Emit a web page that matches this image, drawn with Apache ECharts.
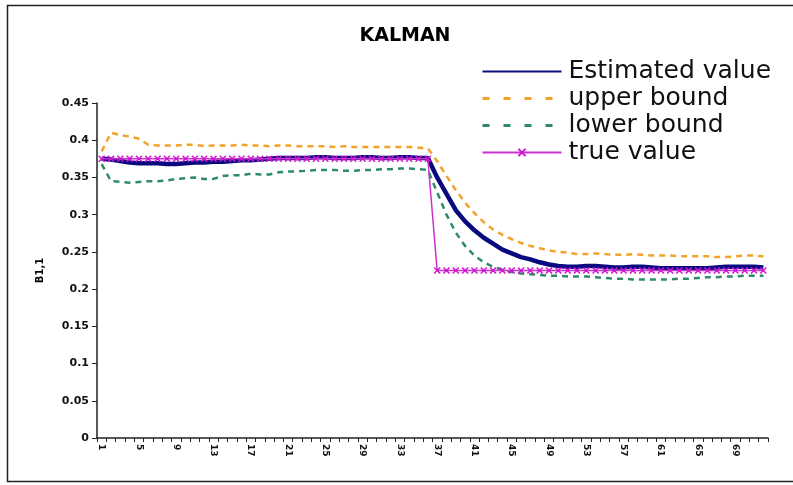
<!DOCTYPE html>
<html>
<head>
<meta charset="utf-8">
<title>KALMAN</title>
<script src="https://cdn.jsdelivr.net/npm/echarts@6/dist/echarts.min.js"></script>
<style>
  html, body { margin: 0; padding: 0; background: #ffffff; }
  #chart { width: 793px; height: 485px; }
</style>
</head>
<body>
<div id="chart"></div>
<script>
// Time steps 1..72
const steps = [];
for (let i = 1; i <= 72; i++) steps.push(String(i));

// Kalman filter estimate of B1,1
const estimated = [
  0.375, 0.374, 0.372, 0.370, 0.369, 0.369, 0.369, 0.368, 0.368, 0.369,
  0.370, 0.370, 0.371, 0.371, 0.372, 0.373, 0.373, 0.374, 0.375, 0.376,
  0.376, 0.376, 0.376, 0.377, 0.377, 0.376, 0.376, 0.376, 0.377, 0.377,
  0.376, 0.376, 0.377, 0.377, 0.376, 0.376,
  0.350, 0.328, 0.306, 0.291, 0.279, 0.269, 0.261, 0.253, 0.248, 0.243,
  0.240, 0.236, 0.233, 0.231, 0.230, 0.230, 0.231, 0.231, 0.230, 0.229,
  0.229, 0.230, 0.230, 0.229, 0.228, 0.228, 0.228, 0.228, 0.228, 0.228,
  0.229, 0.230, 0.230, 0.230, 0.230, 0.229
];

// Upper confidence bound
const upper = [
  0.385, 0.410, 0.407, 0.405, 0.402, 0.394, 0.393, 0.393, 0.393, 0.394,
  0.394, 0.392, 0.393, 0.393, 0.393, 0.394, 0.393, 0.393, 0.392, 0.393,
  0.393, 0.392, 0.392, 0.392, 0.392, 0.391, 0.392, 0.391, 0.391, 0.391,
  0.391, 0.391, 0.391, 0.391, 0.390, 0.389,
  0.372, 0.352, 0.333, 0.316, 0.302, 0.290, 0.280, 0.273, 0.267, 0.262,
  0.258, 0.255, 0.252, 0.250, 0.249, 0.247, 0.247, 0.248, 0.247, 0.246,
  0.246, 0.247, 0.246, 0.245, 0.245, 0.245, 0.244, 0.244, 0.244, 0.244,
  0.243, 0.243, 0.244, 0.245, 0.245, 0.244
];

// Lower confidence bound
const lower = [
  0.368, 0.345, 0.344, 0.343, 0.344, 0.345, 0.345, 0.346, 0.348, 0.349,
  0.350, 0.348, 0.348, 0.352, 0.353, 0.353, 0.355, 0.354, 0.354, 0.357,
  0.358, 0.358, 0.359, 0.360, 0.360, 0.360, 0.359, 0.359, 0.360, 0.360,
  0.361, 0.361, 0.362, 0.362, 0.361, 0.360,
  0.330, 0.300, 0.276, 0.258, 0.245, 0.236, 0.230, 0.226, 0.223, 0.221,
  0.220, 0.219, 0.218, 0.218, 0.217, 0.217, 0.217, 0.216, 0.215, 0.214,
  0.214, 0.213, 0.213, 0.213, 0.213, 0.213, 0.214, 0.214, 0.215, 0.216,
  0.216, 0.217, 0.217, 0.218, 0.218, 0.218
];

// True parameter value: a step change after step 36
const trueValue = [];
for (let i = 0; i < 36; i++) trueValue.push(0.375);
for (let i = 0; i < 36; i++) trueValue.push(0.225);

// Y-axis tick labels
const yTicks = ['0', '0.05', '0.1', '0.15', '0.2', '0.25', '0.3', '0.35', '0.4', '0.45'];

const FONT = '"DejaVu Sans", "Liberation Sans", Arial, sans-serif';
const crossSymbol = 'path://M0,0L10,10M10,0L0,10';
const noMarker = { color: 'rgba(0,0,0,0)', borderWidth: 0, opacity: 0 };

const chart = echarts.init(document.getElementById('chart'), null, { renderer: 'canvas' });

chart.setOption({
  animation: false,
  backgroundColor: '#ffffff',
  title: {
    text: 'KALMAN',
    left: 400,
    top: 22,
    textAlign: 'center',
    textStyle: { fontFamily: FONT, fontSize: 19, fontWeight: 'bold', color: '#000' }
  },
  legend: {
    orient: 'vertical',
    left: 481,
    top: 58,
    padding: 0,
    itemWidth: 79,
    itemHeight: 9,
    itemGap: 0,
    textStyle: { fontFamily: FONT, fontSize: 25, lineHeight: 27, color: '#111', padding: [0, 0, 0, 2] },
    data: [
      { name: 'Estimated value', itemStyle: noMarker },
      { name: 'upper bound', itemStyle: noMarker, lineStyle: { type: [7, 14], width: 3 } },
      { name: 'lower bound', itemStyle: noMarker, lineStyle: { type: [7, 14], width: 3 } },
      { name: 'true value' }
    ]
  },
  grid: { left: 97, top: 103, right: 25, bottom: 47 },
  xAxis: {
    type: 'category',
    data: steps,
    boundaryGap: true,
    axisLine: { lineStyle: { color: '#222', width: 1.5 } },
    axisTick: { show: true, interval: 0, length: 4, lineStyle: { color: '#222' } },
    axisLabel: {
      interval: 3,
      rotate: -90,
      fontFamily: FONT,
      fontSize: 9,
      fontWeight: 'bold',
      color: '#111',
      margin: 6
    },
    splitLine: { show: false }
  },
  yAxis: {
    type: 'value',
    min: 0,
    max: 0.45,
    interval: 0.05,
    name: 'B1,1',
    nameLocation: 'middle',
    nameGap: 52,
    nameRotate: 90,
    nameTextStyle: { fontFamily: FONT, fontSize: 10, fontWeight: 'bold', color: '#000' },
    axisLine: { show: true, lineStyle: { color: '#222', width: 1.5 } },
    axisTick: { show: true, inside: false, length: 5, lineStyle: { color: '#222' } },
    axisLabel: {
      fontFamily: FONT,
      fontSize: 11,
      fontWeight: 'bold',
      color: '#111',
      margin: 8,
      formatter: function (v) { return yTicks[Math.round(v / 0.05)]; }
    },
    splitLine: { show: false }
  },
  series: [
    {
      name: 'Estimated value',
      type: 'line',
      data: estimated,
      symbol: 'none',
      z: 4,
      lineStyle: { color: '#0A0A80', width: 4.5 },
      itemStyle: { color: '#0A0A80' }
    },
    {
      name: 'upper bound',
      type: 'line',
      data: upper,
      symbol: 'none',
      z: 2,
      lineStyle: { color: '#F2A227', width: 2.5, type: [6, 5] },
      itemStyle: { color: '#F2A227' }
    },
    {
      name: 'lower bound',
      type: 'line',
      data: lower,
      symbol: 'none',
      z: 2,
      lineStyle: { color: '#2E8B68', width: 2.5, type: [6, 5] },
      itemStyle: { color: '#2E8B68' }
    },
    {
      name: 'true value',
      type: 'line',
      data: trueValue,
      symbol: crossSymbol,
      symbolSize: 6,
      showAllSymbol: true,
      z: 5,
      lineStyle: { color: '#CC33CC', width: 1.5 },
      itemStyle: { color: 'none', borderColor: '#D214D2', borderWidth: 1.5 }
    }
  ],
  graphic: [
    {
      type: 'rect',
      shape: { x: 7.5, y: 5.5, width: 800, height: 476 },
      style: { fill: 'none', stroke: '#222', lineWidth: 1.5 },
      silent: true,
      z: 100
    }
  ]
});
</script>
</body>
</html>
